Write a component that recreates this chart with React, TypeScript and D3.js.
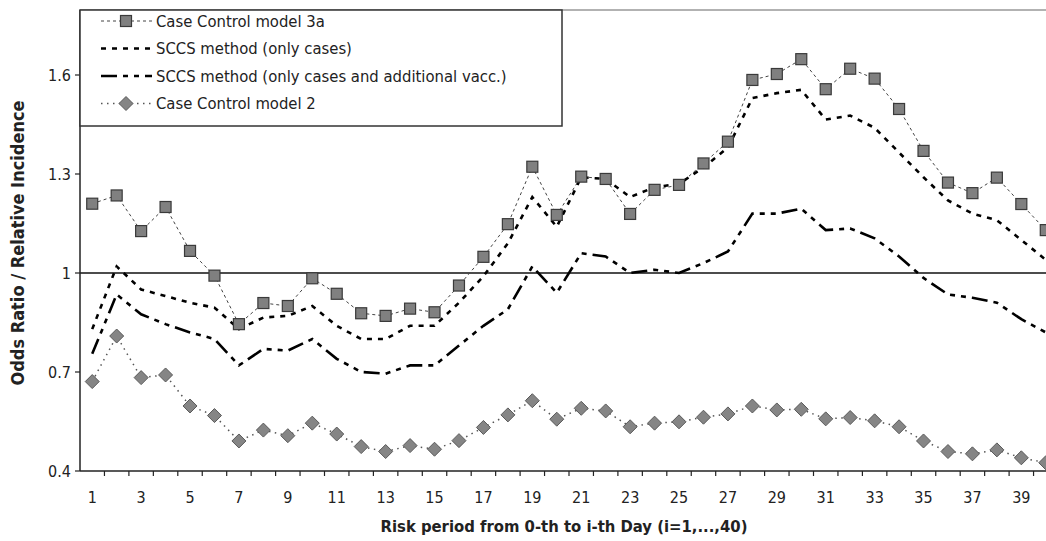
import * as d3 from "d3";

const width = 1046;
const height = 541;
const margin = { left: 80, top: 9, bottom: 471 };
const bandW = 24.45;

const days = d3.range(1, 41);
const yTicks = [0.4, 0.7, 1, 1.3, 1.6];

const caseControl3a = [
  1.21, 1.235, 1.127, 1.2, 1.067, 0.992, 0.845, 0.909, 0.9, 0.984,
  0.937, 0.878, 0.87, 0.892, 0.881, 0.962, 1.049, 1.148, 1.322, 1.176,
  1.292, 1.285, 1.179, 1.252, 1.267, 1.332, 1.398, 1.585, 1.603, 1.648,
  1.557, 1.619, 1.589, 1.497, 1.37, 1.274, 1.242, 1.289, 1.209, 1.13,
];
const sccsCases = [
  0.83, 1.02, 0.95, 0.93, 0.91, 0.895, 0.83, 0.865, 0.87, 0.9,
  0.84, 0.8, 0.8, 0.84, 0.84, 0.91, 0.99, 1.09, 1.23, 1.14,
  1.29, 1.285, 1.23, 1.26, 1.27, 1.32, 1.38, 1.53, 1.545, 1.555,
  1.465, 1.477, 1.44, 1.365, 1.29, 1.22, 1.18, 1.16, 1.1, 1.04,
];
const sccsAddVacc = [
  0.755, 0.935, 0.875, 0.845, 0.82, 0.8, 0.72, 0.77, 0.765, 0.8,
  0.74, 0.7, 0.695, 0.72, 0.72, 0.78, 0.84, 0.89, 1.02, 0.94,
  1.06, 1.05, 1.0, 1.01, 1.0, 1.03, 1.065, 1.18, 1.18, 1.195,
  1.13, 1.135, 1.105, 1.05, 0.985, 0.935, 0.925, 0.91, 0.86, 0.82,
];
const caseControl2 = [
  0.671, 0.809, 0.683, 0.691, 0.597, 0.568, 0.491, 0.524, 0.507, 0.545,
  0.512, 0.474, 0.459, 0.477, 0.466, 0.492, 0.532, 0.57, 0.613, 0.557,
  0.59, 0.582, 0.534, 0.545, 0.549, 0.563, 0.573, 0.597, 0.585, 0.587,
  0.558, 0.562, 0.552, 0.534, 0.491, 0.459, 0.452, 0.464, 0.44, 0.425,
];

const legendLabels = [
  "Case Control model 3a",
  "SCCS method (only cases)",
  "SCCS method (only cases and additional vacc.)",
  "Case Control model 2",
];

const font = "'Liberation Sans Narrow', 'DejaVu Sans Condensed', Arial, 'Liberation Sans', sans-serif";

const styles = [
  { stroke: "#444", width: 1, dash: "3,3", marker: "square" },
  { stroke: "#000", width: 2.6, dash: "5,6", marker: null },
  { stroke: "#000", width: 2.6, dash: "16,6,5,6,5,6", marker: null },
  { stroke: "#555", width: 1.5, dash: "1.5,4.5", marker: "diamond" },
];

function Marker({ kind, x, y }: { kind: string | null; x: number; y: number }) {
  if (kind === "square") {
    return <rect x={x - 5.5} y={y - 5.5} width={11} height={11} fill="#808080" stroke="#3a3a3a" strokeWidth={1.2} />;
  }
  if (kind === "diamond") {
    const r = 7;
    return (
      <path
        d={`M${x},${y - r}L${x + r},${y}L${x},${y + r}L${x - r},${y}Z`}
        fill="#858585"
        stroke="#5a5a5a"
        strokeWidth={1}
      />
    );
  }
  return null;
}

export default function App() {
  const x = d3
    .scaleBand<number>()
    .domain(days)
    .range([margin.left, margin.left + bandW * days.length])
    .padding(0);
  const y = d3.scaleLinear().domain([0.4, 1.8]).range([margin.bottom, margin.top]);
  const cx = (d: number) => (x(d) as number) + x.bandwidth() / 2;

  const series = [caseControl3a, sccsCases, sccsAddVacc, caseControl2];
  const line = d3
    .line<number>()
    .x((_, i) => cx(days[i]))
    .y((v) => y(v));

  const right = margin.left + bandW * days.length;
  const legendTop = 10;
  const legendBottom = 126;
  const legendRows = [21, 48.5, 76, 103.5];

  return (
    <svg
      width={width}
      height={height}
      style={{ position: "absolute", left: 0, top: 0, background: "#fff" }}
      fontFamily={font}
    >
      {/* top frame line */}
      <line x1={margin.left} x2={right} y1={10} y2={10} stroke="#999" strokeWidth={1.5} />

      {/* reference line at 1 */}
      <line x1={margin.left} x2={right} y1={y(1)} y2={y(1)} stroke="#111" strokeWidth={1.5} />

      {series.map((s, k) => (
        <path
          key={k}
          d={line(s) || ""}
          fill="none"
          stroke={styles[k].stroke}
          strokeWidth={styles[k].width}
          strokeDasharray={styles[k].dash}
        />
      ))}
      {series.map((s, k) =>
        styles[k].marker ? (
          <g key={"m" + k}>
            {s.map((v, i) => (
              <Marker key={i} kind={styles[k].marker} x={cx(days[i])} y={y(v)} />
            ))}
          </g>
        ) : null
      )}

      {/* y axis */}
      <line x1={margin.left} x2={margin.left} y1={10} y2={margin.bottom} stroke="#222" strokeWidth={1.5} />
      {yTicks.map((t) => (
        <g key={t}>
          <line x1={margin.left - 5} x2={margin.left} y1={y(t)} y2={y(t)} stroke="#222" strokeWidth={1.2} />
          <text x={margin.left - 9} y={y(t)} dy="0.35em" textAnchor="end" fontSize={16} fill="#222">
            {String(t)}
          </text>
        </g>
      ))}

      {/* x axis */}
      <line x1={margin.left} x2={right} y1={margin.bottom} y2={margin.bottom} stroke="#222" strokeWidth={1.5} />
      {days.map((d) => (
        <line
          key={d}
          x1={(x(d) as number) + bandW}
          x2={(x(d) as number) + bandW}
          y1={margin.bottom}
          y2={margin.bottom + 5}
          stroke="#222"
          strokeWidth={1.2}
        />
      ))}
      {days
        .filter((d) => d % 2 === 1)
        .map((d) => (
          <text key={d} x={cx(d)} y={497} dy="0.35em" textAnchor="middle" fontSize={16} fill="#222">
            {d}
          </text>
        ))}

      {/* axis titles */}
      <text
        x={564}
        y={526}
        dy="0.35em"
        textAnchor="middle"
        fontSize={16.5}
        fontWeight="bold"
        fill="#222"
      >
        Risk period from 0-th to i-th Day (i=1,...,40)
      </text>
      <text
        transform={`translate(18,${243}) rotate(-90)`}
        dy="0.35em"
        textAnchor="middle"
        fontSize={18}
        fontWeight="bold"
        fill="#222"
      >
        Odds Ratio / Relative Incidence
      </text>

      {/* legend */}
      <rect
        x={margin.left}
        y={legendTop}
        width={562 - margin.left}
        height={legendBottom - legendTop}
        fill="#fff"
        stroke="#333"
        strokeWidth={1.5}
      />
      {legendLabels.map((lab, k) => (
        <g key={lab}>
          <line
            x1={101}
            x2={152}
            y1={legendRows[k]}
            y2={legendRows[k]}
            stroke={styles[k].stroke}
            strokeWidth={styles[k].width}
            strokeDasharray={styles[k].dash}
          />
          <Marker kind={styles[k].marker} x={126} y={legendRows[k]} />
          <text x={156} y={legendRows[k]} dy="0.35em" fontSize={16.5} fill="#222">
            {lab}
          </text>
        </g>
      ))}
    </svg>
  );
}
